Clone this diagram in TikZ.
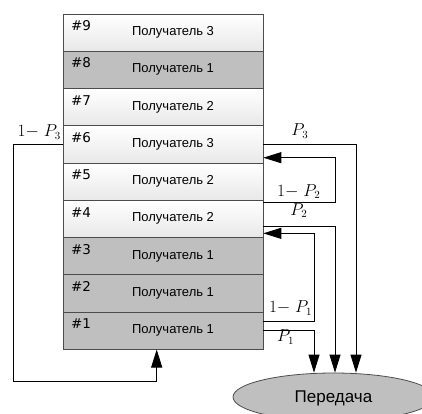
\documentclass[tikz,border=0pt]{standalone}
\usepackage[no-math]{fontspec}
\setmainfont{Liberation Sans}
\newfontfamily\numfont{DejaVu Sans}
\usetikzlibrary{arrows.meta,calc,shapes.geometric}
\begin{document}
\begin{tikzpicture}[x=1pt,y=-1pt,
  cell/.style={draw=black!70, line width=1pt, minimum width=200pt, minimum height=37.28pt, inner sep=0pt, outer sep=0pt},
  light/.style={cell, top color=white, bottom color=black!9},
  dark/.style={cell, fill=black!25},
  num/.style={anchor=base west, inner sep=0pt, font=\numfont\fontsize{13.5}{16}\selectfont},
  rtxt/.style={anchor=base west, inner sep=0pt, font=\fontsize{13}{15}\selectfont},
  lab/.style={anchor=base west, inner sep=0pt, font=\fontsize{16}{18}\selectfont},
  conn/.style={draw=black, line width=0.9pt},
  arr/.style={conn, -{Triangle[length=18pt,width=11pt]}},
]
\useasboundingbox (0,0) rectangle (422,413);
% rows
\node[light] (r9) at (163.3,32.64) {};
\node[dark]  (r8) at (163.3,69.92) {};
\node[light] (r7) at (163.3,107.2) {};
\node[light] (r6) at (163.3,144.48) {};
\node[light] (r5) at (163.3,181.76) {};
\node[light] (r4) at (163.3,219.04) {};
\node[dark]  (r3) at (163.3,256.32) {};
\node[dark]  (r2) at (163.3,293.6) {};
\node[dark]  (r1) at (163.3,330.88) {};
% row texts
\node[num] (n9) at ($(r9.north west)+(7.5,16.7)$) {\#9};
\node[num] (n8) at ($(r8.north west)+(7.5,16.7)$) {\#8};
\node[num] (n7) at ($(r7.north west)+(7.5,16.7)$) {\#7};
\node[num] (n6) at ($(r6.north west)+(7.5,16.7)$) {\#6};
\node[num] (n5) at ($(r5.north west)+(7.5,16.7)$) {\#5};
\node[num] (n4) at ($(r4.north west)+(7.5,16.7)$) {\#4};
\node[num] (n3) at ($(r3.north west)+(7.5,16.7)$) {\#3};
\node[num] (n2) at ($(r2.north west)+(7.5,16.7)$) {\#2};
\node[num] (n1) at ($(r1.north west)+(7.5,16.7)$) {\#1};
\node[rtxt] (t9) at ($(r9.north west)+(68.6,21.5)$) {Получатель 3};
\node[rtxt] (t8) at ($(r8.north west)+(68.6,21.5)$) {Получатель 1};
\node[rtxt] (t7) at ($(r7.north west)+(68.6,21.5)$) {Получатель 2};
\node[rtxt] (t6) at ($(r6.north west)+(68.6,21.5)$) {Получатель 3};
\node[rtxt] (t5) at ($(r5.north west)+(68.6,21.5)$) {Получатель 2};
\node[rtxt] (t4) at ($(r4.north west)+(68.6,21.5)$) {Получатель 2};
\node[rtxt] (t3) at ($(r3.north west)+(68.6,21.5)$) {Получатель 1};
\node[rtxt] (t2) at ($(r2.north west)+(68.6,21.5)$) {Получатель 1};
\node[rtxt] (t1) at ($(r1.north west)+(68.6,21.5)$) {Получатель 1};
% transmission
\node[ellipse, draw=black!70, line width=0.8pt, fill=black!25, minimum width=201pt, minimum height=48pt, inner sep=0pt] (tx) at (333.5,397) {};
\node[anchor=base, inner sep=0pt, font=\fontsize{17}{20}\selectfont] (txl) at (333.5,402.7) {Передача};
% connectors
\draw[arr] (r6.east) -| ($(tx.north)+(22.5,0)$);
\draw[arr] ($(r4.east)+(0,-16.3)$) -- ++(71.7,0) |- ($(r6.east)+(0,13.2)$);
\draw[arr] ($(r4.east)+(0,7)$) -| ($(tx.north)+(1.5,0)$);
\draw[arr] ($(r1.east)+(0,-9.2)$) -- ++(50.7,0) |- ($(r4.east)+(0,14.3)$);
\draw[arr] (r1.east) -| ($(tx.north)+(-19.5,0)$);
\draw[arr] (r6.west) -| ($(r1.south)+(-150,32.2)$) -| ($(r1.south)+(-6.6,0)$);
% labels
\node[lab] (l3a) at (17.5,136.7) {$1{-}\;P_3$};
\node[lab] (l3b) at (291.2,135.5) {$P_3$};
\node[lab] (l2a) at (277,196) {$1{-}\;P_2$};
\node[lab] (l2b) at (290.2,215) {$P_2$};
\node[lab] (l1a) at (268.8,312.7) {$1{-}\;P_1$};
\node[lab] (l1b) at (277,341.5) {$P_1$};
\end{tikzpicture}
\end{document}
